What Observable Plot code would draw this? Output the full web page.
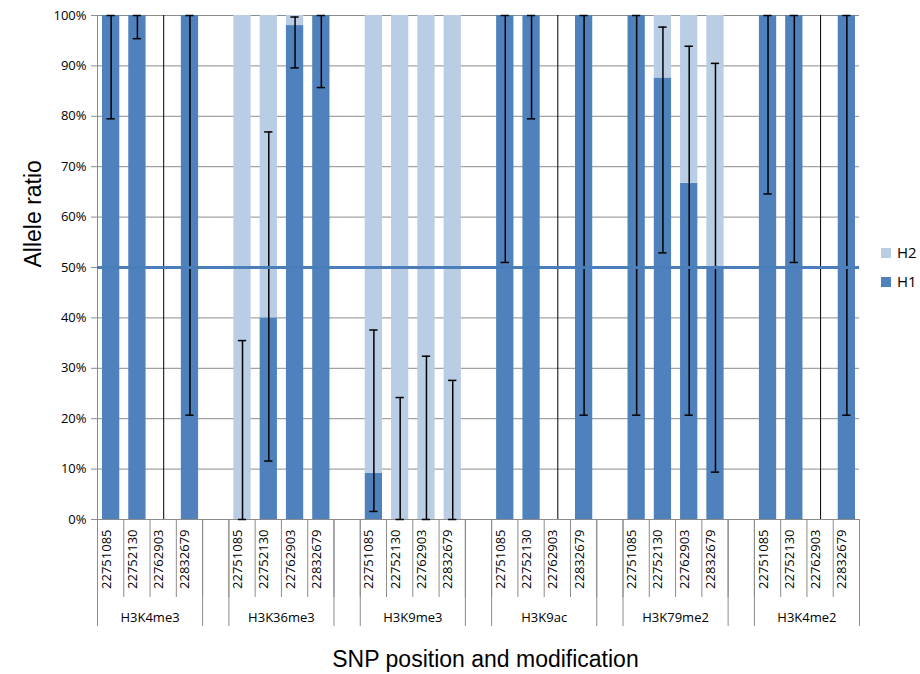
<!DOCTYPE html>
<html><head><meta charset="utf-8">
<script src="https://cdn.jsdelivr.net/npm/d3@7"></script>
<script src="https://cdn.jsdelivr.net/npm/@observablehq/plot@0.6"></script>
<style>
body{margin:0;background:#fff;}
#wrap{position:relative;width:920px;height:674px;font-family:"Open Sans",sans-serif;}
#legend{position:absolute;left:881px;top:238px;font-size:15px;line-height:29px;color:#000;}
#legend .sw{display:inline-block;width:10px;height:10px;margin-right:6px;vertical-align:0px}
</style></head><body>
<div id="wrap"><div id="legend"></div></div>
<script>
// ---- data ----
const groups = ["H3K4me3", "H3K36me3", "H3K9me3", "H3K9ac", "H3K79me2", "H3K4me2"];
const snps = ["22751085", "22752130", "22762903", "22832679"];
// H1 allele ratio per group (rows) and SNP (columns); null = no reads
const h1 = [
  [1.00, 1.00, null, 1.00],
  [0.00, 0.40, 0.98, 1.00],
  [0.092, 0.00, 0.00, 0.00],
  [1.00, 1.00, null, 1.00],
  [1.00, 0.876, 0.667, 0.50],
  [1.00, 1.00, null, 1.00]
];
const errLow = [
  [0.795, 0.954, 0.00, 0.207],
  [0.00, 0.116, 0.896, 0.857],
  [0.016, 0.00, 0.00, 0.00],
  [0.510, 0.795, 0.00, 0.207],
  [0.207, 0.529, 0.207, 0.094],
  [0.646, 0.510, 0.00, 0.207]
];
const errHigh = [
  [1.00, 1.00, 1.00, 1.00],
  [0.355, 0.769, 0.997, 1.00],
  [0.376, 0.242, 0.324, 0.276],
  [1.00, 1.00, 1.00, 1.00],
  [1.00, 0.977, 0.939, 0.905],
  [1.00, 1.00, 1.00, 1.00]
];
const series = ["H2", "H1"];
const seriesColors = ["#b9cde5", "#4f81bd"];
const yTicks = [0, 0.1, 0.2, 0.3, 0.4, 0.5, 0.6, 0.7, 0.8, 0.9, 1.0];
const refLine = [0.5];
const xTitle = "SNP position and modification";
const yTitle = "Allele ratio";

// ---- build slots ----
const slots = [];
groups.forEach((g, gi) => {
  snps.forEach((s, si) => slots.push({key: g + "|" + s, group: g, snp: s, gi, si, gap: false,
    h1: h1[gi][si], lo: errLow[gi][si], hi: errHigh[gi][si]}));
  if (gi < groups.length - 1) slots.push({key: "gap" + gi, group: "", snp: "", gi, si: 4, gap: true});
});
const real = slots.filter(d => !d.gap);
const stacked = [];
real.forEach(d => {
  if (d.h1 != null) {
    stacked.push({key: d.key, series: "H1", value: d.h1});
    stacked.push({key: d.key, series: "H2", value: 1 - d.h1});
  }
});
const withData = real.filter(d => d.h1 != null);
const noData = real.filter(d => d.h1 == null);

// ---- layout ----
const W = 920, H = 674, mL = 97, mR = 61, mT = 15, mB = 155;
const frameH = H - mT - mB;
const bw = (W - mL - mR) / slots.length;
const grey = "#8c8c8c";
const lastKey = slots[slots.length - 1].key;
const longSep = slots.filter(d => d.si === 0 || d.si === 4);

const chart = Plot.plot({
  width: W, height: H,
  marginLeft: mL, marginRight: mR, marginTop: mT, marginBottom: mB,
  style: {fontFamily: "'Open Sans', sans-serif", fontSize: "13px", background: "#fff", color: "#000"},
  x: {type: "band", domain: slots.map(d => d.key), padding: 0, round: false, axis: null},
  y: {domain: [0, 1], axis: null},
  color: {domain: series, range: seriesColors},
  marks: [
    Plot.ruleY(yTicks, {stroke: grey, strokeWidth: 1}),
    Plot.axisY({ticks: yTicks, tickFormat: d3.format(".0%"), tickSize: 6, tickPadding: 5,
      stroke: grey, fill: "#000", fontSize: 13, label: null}),
    Plot.ruleX([slots[0].key], {dx: -bw / 2, stroke: grey}),
    Plot.barY(stacked, {x: "key", y: "value", fill: "series", order: ["H1", "H2"], insetLeft: 5, insetRight: 4}),
    Plot.ruleX(withData, {x: "key", y1: "lo", y2: "hi", stroke: "#000", strokeWidth: 1.5, dx: 0.5}),
    Plot.tickY(withData, {x: "key", y: "lo", stroke: "#000", strokeWidth: 1.5, insetLeft: 9.5, insetRight: 8.5}),
    Plot.tickY(withData, {x: "key", y: "hi", stroke: "#000", strokeWidth: 1.5, insetLeft: 9.5, insetRight: 8.5}),
    Plot.ruleX(noData, {x: "key", y1: "lo", y2: "hi", stroke: "#000", strokeWidth: 1, dx: 0.5}),
    Plot.ruleY(refLine, {stroke: "#4a7ebb", strokeWidth: 3}),
    // category separators
    Plot.ruleX(slots, {x: "key", dx: -bw / 2, insetTop: frameH, insetBottom: -78, stroke: grey}),
    Plot.ruleX(longSep, {x: "key", dx: -bw / 2, insetTop: frameH, insetBottom: -107, stroke: grey}),
    Plot.ruleX([lastKey], {dx: bw / 2, insetTop: frameH, insetBottom: -107, stroke: grey}),
    // labels
    Plot.text(real, {x: "key", text: "snp", frameAnchor: "bottom", rotate: -90, textAnchor: "end",
      dy: 10, fontSize: 13, fill: "#000"}),
    Plot.text(real.filter(d => d.si === 1), {x: "key", text: "group", frameAnchor: "bottom", dx: bw / 2,
      dy: 102, fontSize: 13, fill: "#000"}),
    Plot.text([yTitle], {frameAnchor: "left", dx: -64, rotate: -90, fontSize: 23,
      fontFamily: "'Liberation Sans', Arial, sans-serif", fill: "#000"}),
    Plot.text([xTitle], {frameAnchor: "bottom", dy: 147, dx: 7, fontSize: 23,
      fontFamily: "'Liberation Sans', Arial, sans-serif", fill: "#000"})
  ]
});
document.getElementById("wrap").prepend(chart);

const legend = document.getElementById("legend");
series.forEach((s, i) => {
  const row = document.createElement("div");
  row.innerHTML = `<span class="sw" style="background:${seriesColors[i]}"></span>${s}`;
  legend.appendChild(row);
});
</script>
</body></html>
